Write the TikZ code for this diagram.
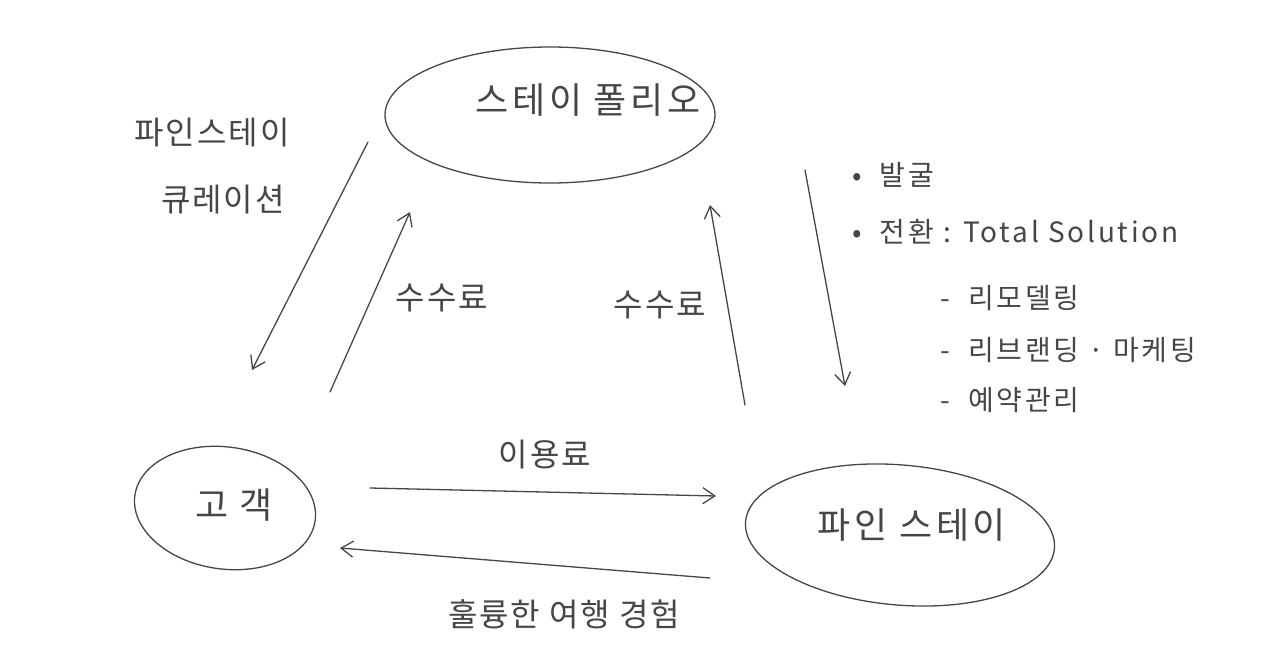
\documentclass[tikz,border=0pt]{standalone}
\usepackage{fontspec}
\setmainfont{Noto Sans CJK KR}
\usetikzlibrary{arrows.meta,shapes.geometric}
\definecolor{pencil}{RGB}{70,70,70}
\tikzset{
  pen/.style={draw=pencil, line width=1.3pt, line cap=round},
  blob/.style={pen, ellipse},
  arr/.style={pen, -{Straight Barb[length=12pt,width=16pt,line width=1.3pt]}},
  lbl/.style={text=pencil, font=\fontsize{32}{36}\selectfont\addfontfeature{LetterSpace=6}, inner sep=0pt},
  big/.style={text=pencil, font=\fontsize{36}{40}\selectfont\addfontfeature{LetterSpace=10}, inner sep=0pt},
  note/.style={text=pencil, font=\fontsize{28}{32}\selectfont\addfontfeature{LetterSpace=10}, inner sep=0pt, anchor=west},
}
\begin{document}
\begin{tikzpicture}[x=1pt,y=-1pt]
\useasboundingbox (0,0) rectangle (1280,664);
% ellipses
\node[blob, minimum width=330pt, minimum height=136pt] (stay) at (550,115) {};
\node[big] (stayt) at (588,100) {스테이 폴리오};
\node[blob, minimum width=182pt, minimum height=122pt, rotate=-8] (cust) at (225,508) {};
\node[big] (custt) at (234,505) {고 객};
\node[blob, minimum width=310pt, minimum height=140pt, rotate=-5] (fine) at (900,535) {};
\node[big] (finet) at (912,525) {파인 스테이};
% arrow endpoints
\coordinate (c1s) at (368,142); \coordinate (c1e) at (252,370);
\coordinate (c2s) at (330,392); \coordinate (c2e) at (410,212);
\coordinate (c3s) at (745,405); \coordinate (c3e) at (710,205);
\coordinate (c4s) at (805,170); \coordinate (c4e) at (845,386);
\coordinate (c5s) at (370,488); \coordinate (c5e) at (716,496);
\coordinate (c6s) at (710,578); \coordinate (c6e) at (340,548);
\draw[arr] (c1s) -- (c1e);
\draw[arr] (c2s) -- (c2e);
\draw[arr] (c3s) -- (c3e);
\draw[arr] (c4s) -- (c4e);
\draw[arr] (c5s) -- (c5e);
\draw[arr] (c6s) -- (c6e);
% labels
\node[lbl] (l1) at (212,133) {파인스테이};
\node[lbl] (l2) at (223,200) {큐레이션};
\node[lbl] (l3) at (442,298) {수수료};
\node[lbl] (l4) at (660,305) {수수료};
\node[lbl] (l5) at (545,455) {이용료};
\node[lbl] (l6) at (564,614) {훌륭한 여행 경험};
% notes
\node[note] (n1) at (852,175) {•\ \ 발굴};
\node[note] (n2) at (852,232) {•\ \ 전환 : Total Solution};
\node[note] (n3) at (940,298) {-\ \ 리모델링};
\node[note] (n4) at (940,350) {-\ \ 리브랜딩 · 마케팅};
\node[note] (n5) at (940,400) {-\ \ 예약관리};
\end{tikzpicture}
\end{document}
